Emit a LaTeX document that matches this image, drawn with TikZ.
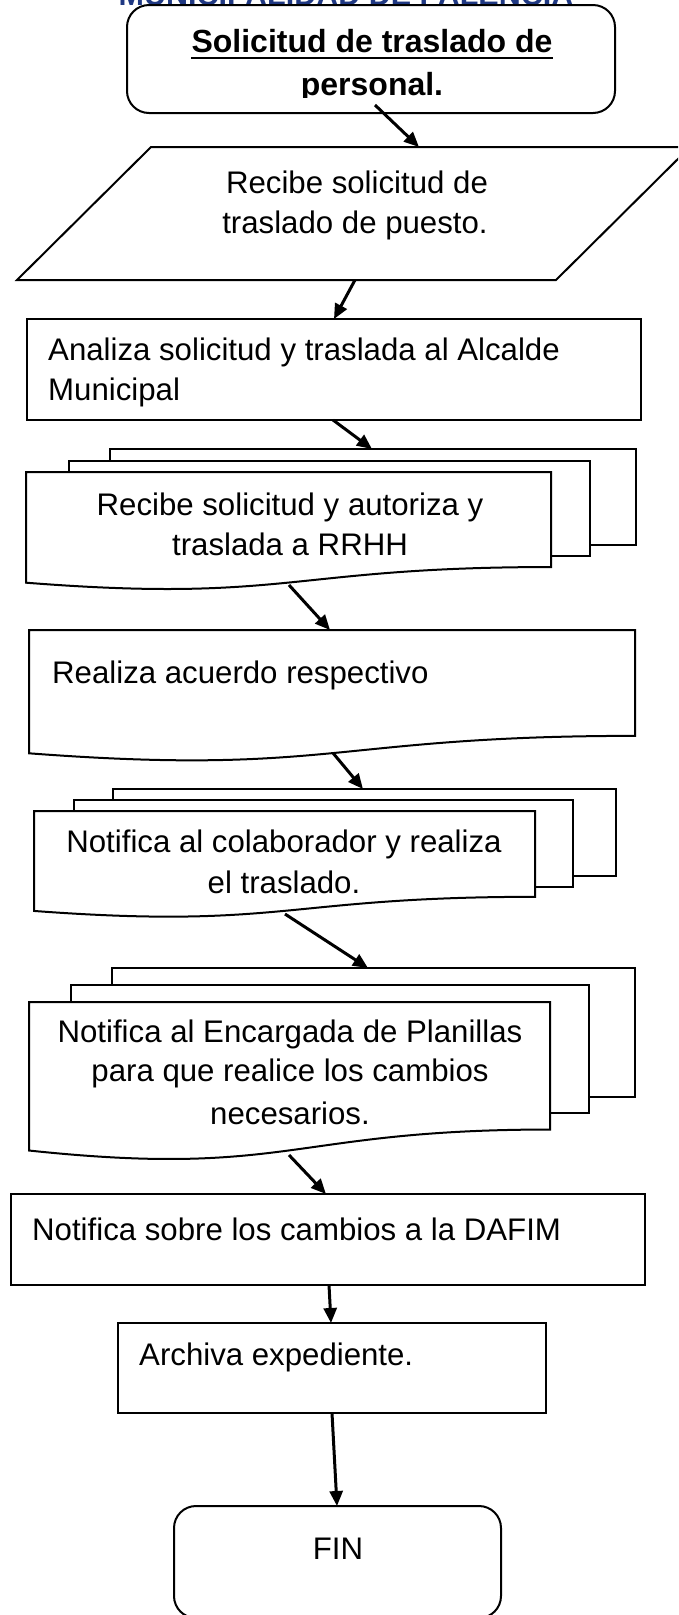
\documentclass[tikz,border=0pt]{standalone}
\usepackage{fontspec}
\setmainfont{Liberation Sans}
\usetikzlibrary{arrows.meta}
\definecolor{navy}{RGB}{31,56,130}
\newcommand{\docshape}[4]{%
  \pgfmathsetmacro{\dsxm}{(#1+#2)/2}%
  \pgfmathsetmacro{\dsya}{#3+0.802*#4}%
  \pgfmathsetmacro{\dsyb}{#3+1.1075*#4}%
  \pgfmathsetmacro{\dsyc}{#3+0.934*#4}%
  \draw[box] (#1,#3) -- (#2,#3) -- (#2,\dsya) .. controls (\dsxm,\dsya) and (\dsxm,\dsyb) .. (#1,\dsyc) -- cycle;}
\begin{document}
\begin{tikzpicture}[x=1pt,y=-1pt,
  box/.style={draw=black, line width=2pt, fill=white},
  rbox/.style={box, inner sep=0pt, outer sep=0pt},
  conn/.style={line width=3pt, -{Triangle[length=15pt,width=13pt]}},
  txt/.style={anchor=base, inner sep=0pt, font=\fontsize{31.2}{36}\selectfont},
  ltxt/.style={anchor=base west, inner sep=0pt, font=\fontsize{31.2}{36}\selectfont},
  btxt/.style={anchor=base, inner sep=0pt, font=\bfseries\fontsize{32}{36}\selectfont}]
\useasboundingbox (0,0) rectangle (678,1615);
\clip (0,0) rectangle (678,1615);

% title (cut off at top)
\node[btxt, font=\bfseries\fontsize{30.5}{36}\selectfont, text=navy] (muni) at (346,5) {MUNICIPALIDAD DE PALENCIA};

% start box
\node[rbox, rounded corners=22pt, minimum width=488pt, minimum height=108pt] (inicio) at (371,59) {};
\node[btxt] (t1) at (372,52) {Solicitud de traslado de};
\draw[line width=2pt] ([yshift=-6pt]t1.base west) -- ([yshift=-6pt]t1.base east);
\begin{scope}
  \clip (127,0) rectangle (615,97);
  \node[btxt] (t2) at (372,95) {personal.};
\end{scope}

% parallelogram
\draw[box] (151,147) -- (690,147) -- (556,280) -- (17,280) -- cycle;
\node[txt] (p1) at (357,193) {Recibe solicitud de};
\node[txt] (p2) at (355,233) {traslado de puesto.};

% Analiza box
\node[rbox, minimum width=614pt, minimum height=101pt] (analiza) at (334,369.5) {};
\node[ltxt] (an1) at (48,360) {Analiza solicitud y traslada al Alcalde};
\node[ltxt] (an2) at (48,400) {Municipal};

% multidocument 1
\draw[box] (110,449) rectangle (636,545);
\draw[box] (69,461) rectangle (590,556);
\docshape{26}{551}{472}{118.5}
\node[txt] (m1a) at (290,515) {Recibe solicitud y autoriza y};
\node[txt] (m1b) at (290,555) {traslada a RRHH};

% Realiza document
\docshape{29}{635}{630}{132}
\node[ltxt] (re) at (52,683) {Realiza acuerdo respectivo};

% multidocument 2
\draw[box] (113,789) rectangle (616,876);
\draw[box] (74,800) rectangle (573,887);
\docshape{34}{535}{811}{107}
\node[txt] (m2a) at (284,852) {Notifica al colaborador y realiza};
\node[txt] (m2b) at (284,893) {el traslado.};

% multidocument 3
\draw[box] (112,968) rectangle (635,1097);
\draw[box] (71,985) rectangle (589,1113);
\docshape{29}{550}{1002}{159}
\node[txt] (m3a) at (290,1042) {Notifica al Encargada de Planillas};
\node[txt] (m3b) at (290,1081) {para que realice los cambios};
\node[txt] (m3c) at (290,1124) {necesarios.};

% DAFIM box
\node[rbox, minimum width=634pt, minimum height=91pt] (dafim) at (328,1239.5) {};
\node[ltxt] (da) at (32,1240) {Notifica sobre los cambios a la DAFIM};

% Archiva box
\node[rbox, minimum width=428pt, minimum height=90pt] (archiva) at (332,1368) {};
\node[ltxt] (ar) at (139,1365) {Archiva expediente.};

% FIN
\node[rbox, rounded corners=22pt, minimum width=327pt, minimum height=112pt] (fin) at (337.5,1562) {};
\node[txt] (fint) at (338,1559) {FIN};

% connectors
\coordinate (a1s) at (375,105);  \coordinate (a1e) at (419,147);
\coordinate (a2s) at (355,280);  \coordinate (a2e) at (334,319);
\coordinate (a3s) at (333,420);  \coordinate (a3e) at (372,449);
\coordinate (a4s) at (289,585);  \coordinate (a4e) at (330,630);
\coordinate (a5s) at (333,753);  \coordinate (a5e) at (363,789);
\coordinate (a6s) at (285,914);  \coordinate (a6e) at (368,968);
\coordinate (a7s) at (289,1155); \coordinate (a7e) at (326,1194);
\coordinate (a8s) at (329,1285); \coordinate (a8e) at (331,1323);
\coordinate (a9s) at (332,1413); \coordinate (a9e) at (337,1506);
\draw[conn] (a1s) -- (a1e);
\draw[conn] (a2s) -- (a2e);
\draw[conn] (a3s) -- (a3e);
\draw[conn] (a4s) -- (a4e);
\draw[conn] (a5s) -- (a5e);
\draw[conn] (a6s) -- (a6e);
\draw[conn] (a7s) -- (a7e);
\draw[conn] (a8s) -- (a8e);
\draw[conn] (a9s) -- (a9e);
\end{tikzpicture}
\end{document}
